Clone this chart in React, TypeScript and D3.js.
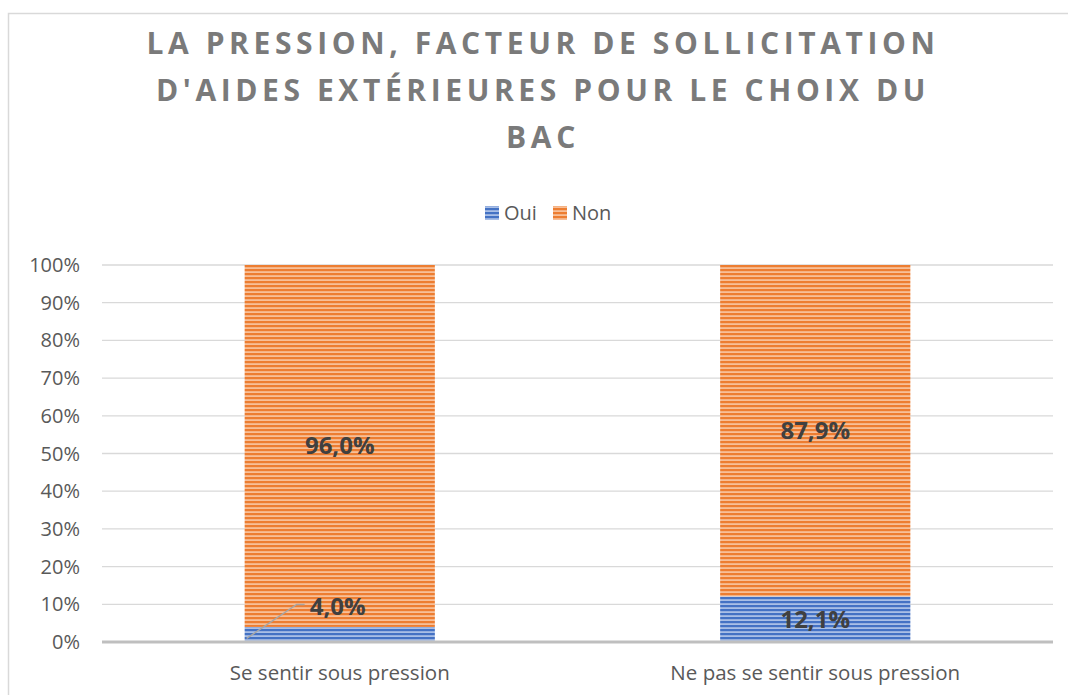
import React, { useRef, useEffect } from "react";
import * as d3 from "d3";

const categories = ["Se sentir sous pression", "Ne pas se sentir sous pression"];
const seriesNames = ["Oui", "Non"];
const ouiValues = [0.04, 0.121];
const nonValues = [0.96, 0.879];
const yTicks = [0, 0.1, 0.2, 0.3, 0.4, 0.5, 0.6, 0.7, 0.8, 0.9, 1];
const titleLines = [
  "LA PRESSION, FACTEUR DE SOLLICITATION",
  "D'AIDES EXTÉRIEURES POUR LE CHOIX DU",
  "BAC",
];

const colors = { Oui: ["#4472C4", "#a9bfe6"], Non: ["#ED7D31", "#f7bf98"] } as Record<string, string[]>;

export default function App() {
  const svgRef = useRef<SVGSVGElement | null>(null);

  useEffect(() => {
    const width = 1068;
    const height = 695;
    const margin = { top: 265, right: 15, bottom: 53, left: 102 };
    const innerW = width - margin.left - margin.right;
    const innerH = height - margin.top - margin.bottom;
    const font = "'Open Sans', 'DejaVu Sans', sans-serif";

    const svg = d3.select(svgRef.current);
    svg.selectAll("*").remove();
    svg.attr("width", width).attr("height", height);

    // stripe patterns
    const defs = svg.append("defs");
    seriesNames.forEach(name => {
      const p = defs.append("pattern")
        .attr("id", `stripe-${name}`)
        .attr("patternUnits", "userSpaceOnUse")
        .attr("width", 8)
        .attr("height", 4);
      p.append("rect").attr("width", 8).attr("height", 4).attr("fill", colors[name][1]);
      p.append("rect").attr("y", 0).attr("width", 8).attr("height", 2.2).attr("fill", colors[name][0]);
    });

    svg.append("rect")
      .attr("x", 0).attr("y", 0).attr("width", width).attr("height", height)
      .attr("fill", "#fff");

    // chart frame
    svg.append("rect")
      .attr("x", 8.5).attr("y", 13.5)
      .attr("width", width + 20).attr("height", height + 20)
      .attr("fill", "#fff")
      .attr("stroke", "#d9d9d9")
      .attr("stroke-width", 1.5);

    // title
    svg.append("g")
      .selectAll("text")
      .data(titleLines)
      .enter()
      .append("text")
      .attr("x", 543)
      .attr("y", (_, i) => 54 + i * 47)
      .attr("text-anchor", "middle")
      .attr("font-family", font)
      .attr("font-weight", 700)
      .attr("font-size", 30)
      .attr("letter-spacing", 4.6)
      .attr("fill", "#7a7a7a")
      .text(d => d);

    // legend
    const legend = svg.append("g").attr("font-family", font).attr("font-size", 20).attr("fill", "#595959");
    const legendItems = [
      { name: "Oui", x: 485 },
      { name: "Non", x: 553 },
    ];
    legendItems.forEach(it => {
      legend.append("rect")
        .attr("x", it.x).attr("y", 206).attr("width", 14).attr("height", 14)
        .attr("fill", `url(#stripe-${it.name})`);
      legend.append("text")
        .attr("x", it.x + 19).attr("y", 220)
        .text(it.name);
    });

    const g = svg.append("g").attr("transform", `translate(${margin.left},${margin.top})`);

    const x = d3.scaleBand().domain(categories).range([0, innerW]).padding(0);
    const y = d3.scaleLinear().domain([0, 1]).range([innerH, 0]);
    const barW = x.bandwidth() * 0.4;

    // gridlines
    g.append("g")
      .selectAll("line")
      .data(yTicks.filter(t => t > 0))
      .enter()
      .append("line")
      .attr("x1", 0).attr("x2", innerW)
      .attr("y1", d => y(d)).attr("y2", d => y(d))
      .attr("stroke", "#d9d9d9").attr("stroke-width", 1.3);

    // y tick labels
    g.append("g")
      .selectAll("text")
      .data(yTicks)
      .enter()
      .append("text")
      .attr("x", -22)
      .attr("y", d => y(d))
      .attr("dy", "0.35em")
      .attr("text-anchor", "end")
      .attr("font-family", font)
      .attr("font-size", 20)
      .attr("fill", "#595959")
      .text(d => `${Math.round(d * 100)}%`);

    // stacked data
    const rows = categories.map((c, i) => ({ category: c, Oui: ouiValues[i], Non: nonValues[i] }));
    const stack = d3.stack<any>().keys(seriesNames)(rows);

    stack.forEach(layer => {
      g.append("g")
        .selectAll("rect")
        .data(layer)
        .enter()
        .append("rect")
        .attr("x", d => (x(d.data.category) as number) + (x.bandwidth() - barW) / 2)
        .attr("y", d => y(d[1]))
        .attr("width", barW)
        .attr("height", d => y(d[0]) - y(d[1]))
        .attr("fill", `url(#stripe-${layer.key})`);
    });

    // x axis line
    g.append("line")
      .attr("x1", 0).attr("x2", innerW)
      .attr("y1", innerH).attr("y2", innerH)
      .attr("stroke", "#bfbfbf").attr("stroke-width", 3);

    // category labels
    g.append("g")
      .selectAll("text")
      .data(categories)
      .enter()
      .append("text")
      .attr("x", d => (x(d) as number) + x.bandwidth() / 2)
      .attr("y", innerH + 38)
      .attr("text-anchor", "middle")
      .attr("font-family", font)
      .attr("font-size", 20.5)
      .attr("fill", "#595959")
      .text(d => d);

    const fmt = (v: number) => `${(v * 100).toFixed(1).replace(".", ",")}%`;

    // data labels
    const labels = g.append("g")
      .attr("font-family", font)
      .attr("font-weight", 700)
      .attr("font-size", 24)
      .attr("fill", "#404040")
      .attr("text-anchor", "middle");

    stack.forEach(layer => {
      layer.forEach(d => {
        const cx = (x(d.data.category) as number) + x.bandwidth() / 2;
        const v = d[1] - d[0];
        if (v < 0.06) {
          // small segment: label outside with leader line
          const left = cx - barW / 2;
          const sy = y((d[0] + d[1]) / 2);
          const ly = sy - 30;
          g.append("polyline")
            .attr("points", `${left + 2},${sy + 4} ${left + 52},${ly} ${left + 60},${ly}`)
            .attr("fill", "none")
            .attr("stroke", "#a6a6a6")
            .attr("stroke-width", 1.5);
          labels.append("text")
            .attr("x", left + 93)
            .attr("y", ly + 2)
            .attr("dy", "0.35em")
            .text(fmt(v));
        } else {
          labels.append("text")
            .attr("x", cx)
            .attr("y", y((d[0] + d[1]) / 2))
            .attr("dy", "0.35em")
            .text(fmt(v));
        }
      });
    });
  }, []);

  return (
    <div style={{ position: "absolute", left: 0, top: 0 }}>
      <svg ref={svgRef} style={{ display: "block" }}></svg>
    </div>
  );
}
